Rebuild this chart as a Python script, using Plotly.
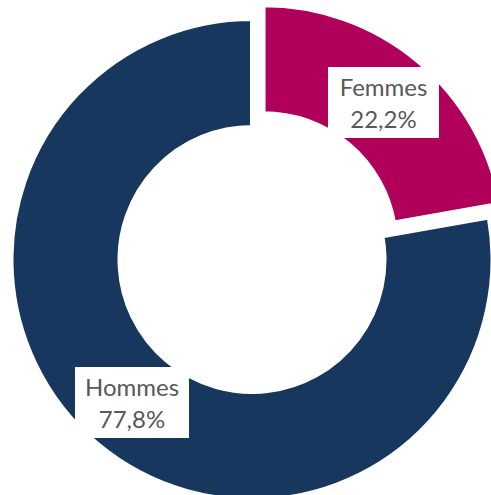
import math
import plotly.graph_objects as go

# ---- data ----
labels = ["Femmes", "Hommes"]
values = [22.2, 77.8]
colors = ["#B0005A", "#17375E"]
exploded = [True, False]

# ---- layout constants (pixels) ----
W, H = 520, 520
CX, CY = 252.0, 259.5
R_OUT, R_IN = 240.5, 132.5
EXPLODE = 18.0
LABEL_R = 187.0
BOX_W = [111, 114]
BOX_H = 71

total = sum(values)
fig = go.Figure()
annotations = []
cum = 0.0
for i, (lab, v) in enumerate(zip(labels, values)):
    mid = (cum + v / 2) / total * 2 * math.pi
    cum += v
    off = EXPLODE if exploded[i] else 0.0
    cx = CX + off * math.sin(mid)
    cy = CY - off * math.cos(mid)
    mcolors = [colors[j] if j == i else "rgba(0,0,0,0)" for j in range(len(values))]
    lwidth = [4 if j == i else 0 for j in range(len(values))]
    fig.add_trace(go.Pie(
        labels=labels, values=values, sort=False, direction="clockwise", rotation=0,
        hole=R_IN / R_OUT,
        domain=dict(x=[(cx - R_OUT) / W, (cx + R_OUT) / W],
                    y=[1 - (cy + R_OUT) / H, 1 - (cy - R_OUT) / H]),
        marker=dict(colors=mcolors, line=dict(color="white", width=lwidth)),
        textinfo="none", hoverinfo="label+percent", showlegend=False,
    ))
    pct = f"{v / total * 100:.1f}".replace(".", ",") + "%"
    lx = cx + LABEL_R * math.sin(mid)
    ly = cy - LABEL_R * math.cos(mid)
    annotations.append(dict(
        x=lx / W, y=1 - ly / H, xref="paper", yref="paper",
        xanchor="center", yanchor="middle",
        text=f"{lab}<br>{pct}", showarrow=False,
        bgcolor="white", borderwidth=0, borderpad=0,
        width=BOX_W[i], height=BOX_H, align="center", valign="middle",
        font=dict(family="Lato, Noto Sans, sans-serif", size=24, color="#595959"),
    ))

fig.update_layout(
    width=W, height=H, margin=dict(l=0, r=0, t=0, b=0),
    paper_bgcolor="white", plot_bgcolor="white",
    annotations=annotations, showlegend=False,
)

fig.write_html("out.html", config={"displayModeBar": False},
               post_script="document.body.style.margin='0';document.body.style.overflow='hidden';")
